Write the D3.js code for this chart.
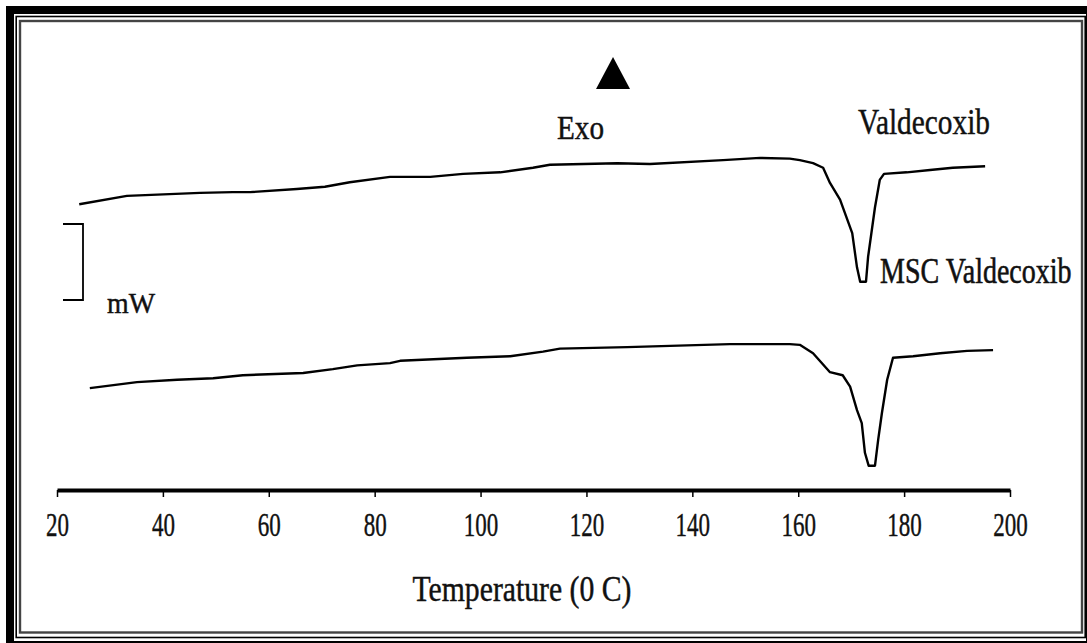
<!DOCTYPE html>
<html lang="en">
<head>
    <meta charset="UTF-8">
    <title>DSC thermograms</title>
    <script src="https://d3js.org/d3.v7.min.js"></script>
    <style>
        body { margin: 0; background: #fff; }
        text { font-family: "Liberation Serif", "Times New Roman", serif; fill: #111; stroke: #111; stroke-width: 0.45px; }
    </style>
</head>
<body>
<script>
    const width  = 1087;
    const height = 643;

    // x axis ticks (temperature, deg C)
    const tempTicks = [20, 40, 60, 80, 100, 120, 140, 160, 180, 200];

    // Valdecoxib trace: temperature / heat flow (arbitrary mW units, bracket = 1)
    const valdTemp = [24.2, 33.2, 47.0, 53.2, 56.5, 65.3, 70.6, 75.3, 82.9, 90.5, 96.7, 103.7, 109.9, 113.1,
                      125.8, 132.0, 145.8, 152.8, 158.4, 160.3, 162.8, 164.7, 166.0, 167.9, 170.2, 171.1,
                      171.7, 172.8, 173.2, 174.5, 175.4, 176.2, 180.5, 184.9, 189.2, 195.3];
    const valdFlow = [3.76, 3.87, 3.91, 3.92, 3.92, 3.96, 3.99, 4.05, 4.12, 4.12, 4.16, 4.18, 4.24, 4.28,
                      4.30, 4.29, 4.34, 4.37, 4.36, 4.34, 4.30, 4.24, 4.04, 3.82, 3.38, 2.93,
                      2.74, 2.74, 3.07, 3.72, 4.08, 4.16, 4.18, 4.21, 4.24, 4.26];

    // MSC Valdecoxib trace
    const mscTemp = [26.2, 35.1, 42.7, 49.5, 55.1, 66.5, 72.1, 76.7, 82.9, 84.8, 97.4, 105.6, 111.8, 115.0,
                     127.7, 147.1, 154.7, 158.4, 160.3, 162.8, 166.0, 168.4, 169.8, 171.1, 172.0, 172.6,
                     173.3, 174.5, 175.1, 175.8, 176.8, 177.9, 181.7, 186.8, 191.9, 196.8];
    const mscFlow = [1.34, 1.42, 1.45, 1.47, 1.51, 1.54, 1.59, 1.64, 1.67, 1.70, 1.74, 1.76, 1.82, 1.86,
                     1.88, 1.92, 1.92, 1.92, 1.91, 1.80, 1.55, 1.51, 1.36, 1.05, 0.88, 0.49,
                     0.32, 0.32, 0.66, 1.01, 1.45, 1.74, 1.76, 1.80, 1.83, 1.84];

    const x = d3.scaleLinear().domain([20, 200]).range([57, 1010]);
    const y = d3.scaleLinear().domain([0, 6]).range([490, 34]);

    const svg = d3.select("body")
            .append("svg")
            .attr("width", width)
            .attr("height", height);

    svg.append("rect").attr("width", width).attr("height", height).attr("fill", "#fff");

    const plot = svg.append("g");

    const line = d3.line()
            .x(d => x(d[0]))
            .y(d => y(d[1]));

    [[valdTemp, valdFlow], [mscTemp, mscFlow]].forEach(function(s) {
        plot.append("path")
                .datum(d3.zip(s[0], s[1]))
                .attr("d", line)
                .attr("fill", "none")
                .attr("stroke", "#000")
                .attr("stroke-width", 2.4)
                .attr("stroke-linejoin", "round");
    });

    // x axis
    const axis = plot.append("g")
            .attr("transform", "translate(0,490)")
            .call(d3.axisBottom(x).tickValues(tempTicks).tickSize(7).tickSizeOuter(0).tickFormat(d3.format("d")));
    axis.select(".domain").attr("stroke", "#000").attr("stroke-width", 4);
    axis.selectAll(".tick line").attr("stroke", "#000").attr("stroke-width", 1.5);
    axis.selectAll(".tick text")
            .attr("y", 46).attr("dy", 0)
            .attr("textLength", d => String(d).length * 11.5)
            .attr("lengthAdjust", "spacingAndGlyphs")
            .style("font-family", "Liberation Serif")
            .style("font-size", "34px")
            .style("fill", "#111");

    plot.append("text")
            .attr("x", 522).attr("y", 601)
            .attr("text-anchor", "middle")
            .attr("textLength", 219).attr("lengthAdjust", "spacingAndGlyphs")
            .style("font-size", "36px")
            .text("Temperature (0 C)");

    // annotations
    plot.append("path")
            .attr("d", "M613,57 L630,89 L596,89 Z")
            .attr("fill", "#000");

    plot.append("text")
            .attr("x", 557).attr("y", 139)
            .attr("textLength", 47).attr("lengthAdjust", "spacingAndGlyphs")
            .style("font-size", "34px")
            .text("Exo");

    plot.append("text")
            .attr("x", 858).attr("y", 134)
            .attr("textLength", 132).attr("lengthAdjust", "spacingAndGlyphs")
            .style("font-size", "36px")
            .text("Valdecoxib");

    // squeezed with a transform so the label stays inside the frame
    plot.append("text")
            .attr("transform", "translate(880,283) scale(1,1.3)")
            .style("font-size", "28px")
            .text("MSC Valdecoxib");

    // mW scale bracket (1 unit)
    plot.append("path")
            .attr("d", "M63," + y(3.5) + " H83 V" + y(2.5) + " H63")
            .attr("fill", "none")
            .attr("stroke", "#000")
            .attr("stroke-width", 1.8);

    plot.append("text")
            .attr("x", 107).attr("y", 313)
            .attr("textLength", 48).attr("lengthAdjust", "spacingAndGlyphs")
            .style("font-size", "30px")
            .text("mW");

    // frame
    svg.append("rect")
            .attr("x", 10).attr("y", 10).attr("width", 1080).attr("height", 635)
            .attr("fill", "none").attr("stroke", "#000").attr("stroke-width", 8);
    svg.append("rect")
            .attr("x", 16.2).attr("y", 16.5).attr("width", 1069).attr("height", 621)
            .attr("fill", "none").attr("stroke", "#000").attr("stroke-width", 1.6);
    svg.append("rect")
            .attr("x", 20).attr("y", 21).attr("width", 1062).attr("height", 611.5)
            .attr("fill", "none").attr("stroke", "#444").attr("stroke-width", 2.4);
</script>
</body>
</html>
